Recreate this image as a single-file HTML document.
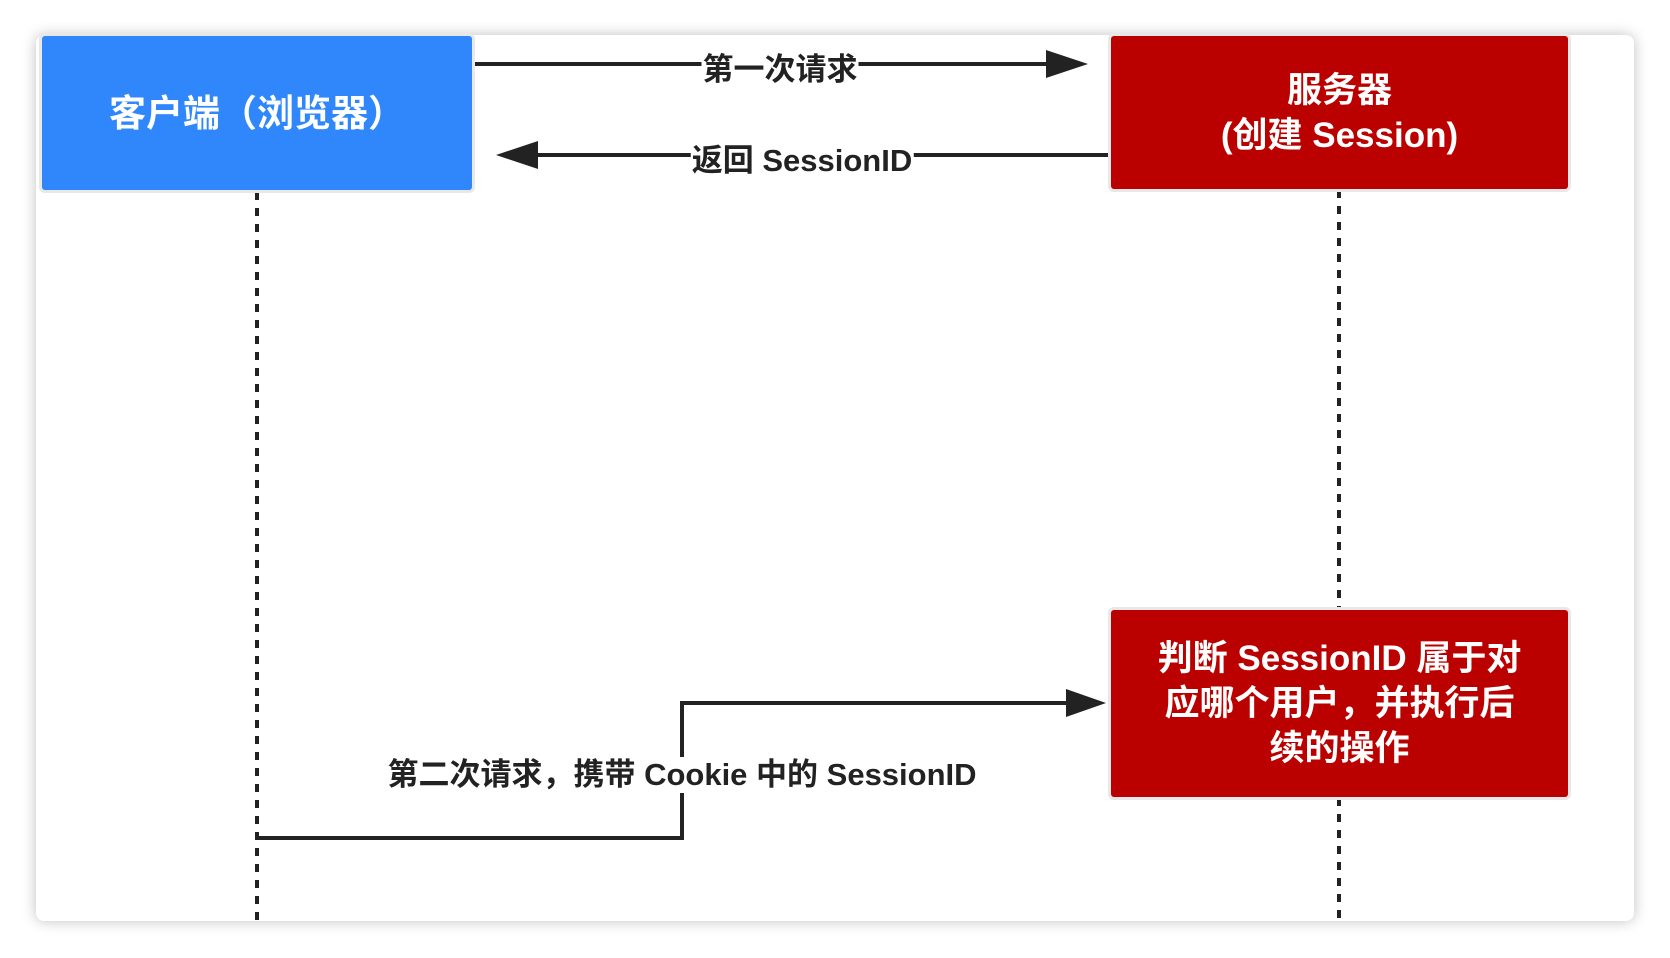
<!DOCTYPE html>
<html><head><meta charset="utf-8"><style>
body{margin:0;width:1670px;height:958px;background:#fff;overflow:hidden;position:relative;font-family:"Liberation Sans","Noto Sans CJK SC",sans-serif;font-weight:bold}
.card{position:absolute;left:36px;top:35px;width:1598px;height:886px;background:#fff;border-radius:8px;box-shadow:0 0 14px rgba(0,0,0,0.25)}
.box{position:absolute;color:#fff;display:flex;align-items:center;justify-content:center;text-align:center;font-size:35px;line-height:45px;box-shadow:0 0 0 3px #e8e8e8;border-radius:3px}
.lbl{position:absolute;background:#fff;font-size:31px;color:#222;white-space:nowrap;transform:translate(-50%,-50%);line-height:36px;padding:0 1px}
</style></head><body>
<div class="card"></div>
<svg width="1670" height="958" style="position:absolute;left:0;top:0">
<line x1="257" y1="192" x2="257" y2="921" stroke="#222" stroke-width="4" stroke-dasharray="8,8"/>
<line x1="1339" y1="190" x2="1339" y2="921" stroke="#222" stroke-width="4" stroke-dasharray="8,8"/>
<line x1="474" y1="64" x2="1050" y2="64" stroke="#222" stroke-width="4"/>
<polygon points="1046,50 1088,64 1046,78" fill="#222"/>
<line x1="1108" y1="155" x2="530" y2="155" stroke="#222" stroke-width="4"/>
<polygon points="538,141 496,155 538,169" fill="#222"/>
<polyline points="257,838 682,838 682,703 1070,703" fill="none" stroke="#222" stroke-width="4"/>
<polygon points="1066,689 1106,703 1066,717" fill="#222"/>
</svg>
<div class="box" style="left:42px;top:36px;width:430px;height:154px;background:#2f87fb;font-size:37px">客户端（浏览器）</div>
<div class="box" style="left:1111px;top:36px;width:457px;height:153px;background:#bb0000">服务器<br>(创建 Session)</div>
<div class="box" style="left:1111px;top:610px;width:457px;height:187px;background:#bb0000">判断 SessionID 属于对<br>应哪个用户，并执行后<br>续的操作</div>
<div class="lbl" style="left:780px;top:70px">第一次请求</div>
<div class="lbl" style="left:802px;top:161px">返回 SessionID</div>
<div class="lbl" style="left:682px;top:775px">第二次请求，携带 Cookie 中的 SessionID</div>
</body></html>
